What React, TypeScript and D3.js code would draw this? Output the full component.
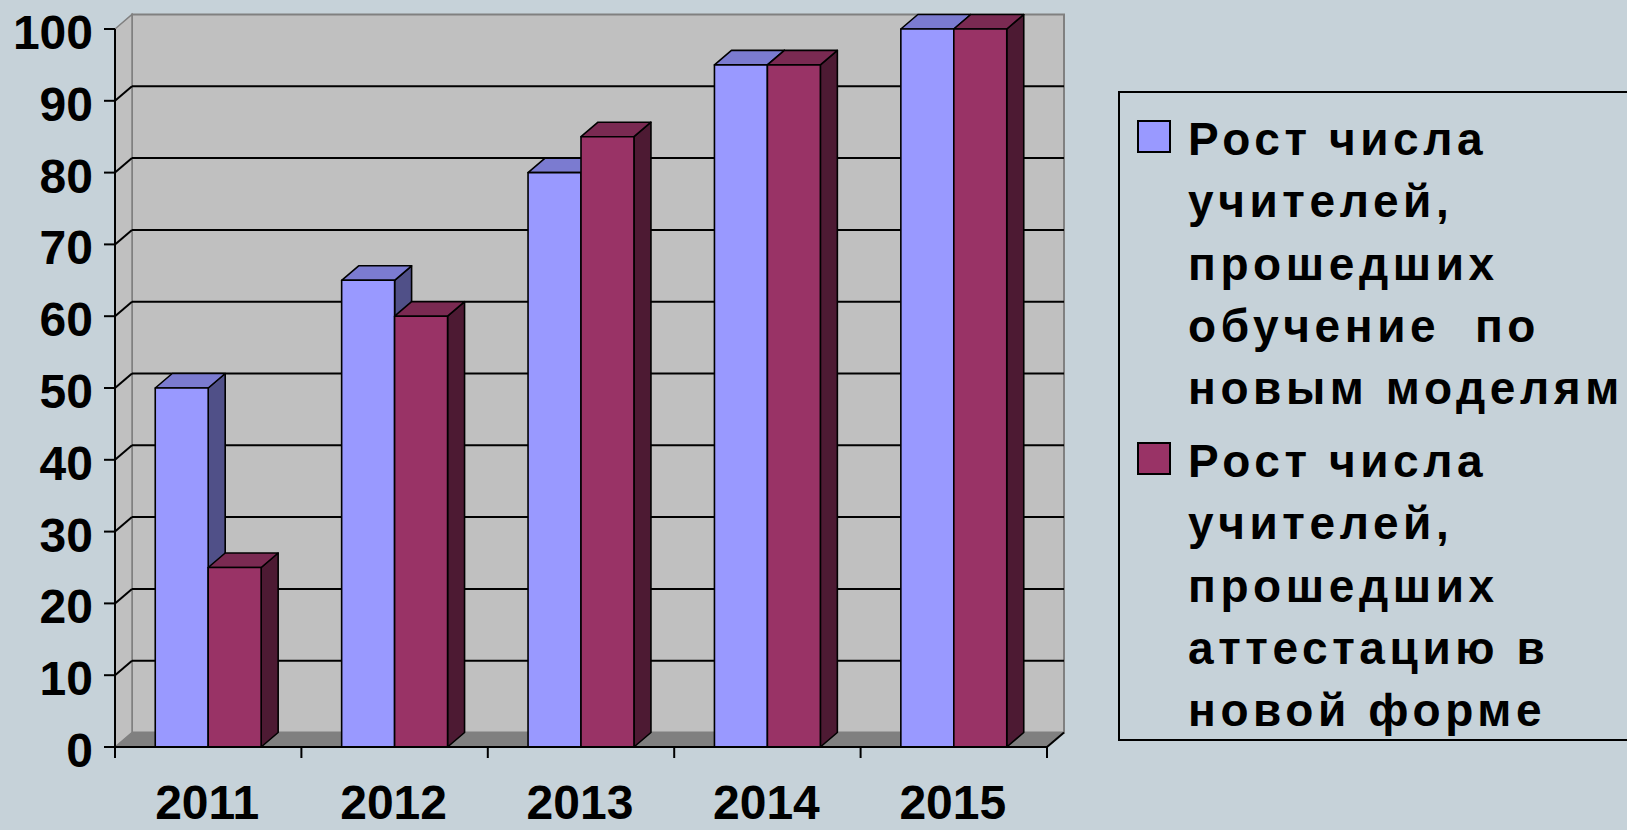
import * as d3 from 'd3'

const years = ['2011', '2012', '2013', '2014', '2015']
const trained = [50, 65, 80, 95, 100]
const certified = [25, 60, 85, 95, 100]
const yTicks = [0, 10, 20, 30, 40, 50, 60, 70, 80, 90, 100]
const seriesKeys = ['trained', 'certified']
const legendLines = [
  ['Рост числа', 'учителей,', 'прошедших', 'обучение  по', 'новым моделям'],
  ['Рост числа', 'учителей,', 'прошедших', 'аттестацию в', 'новой форме'],
]

const W = 1627
const H = 830
const BG = '#c6d2d9'
const font = '"Liberation Sans", Arial, sans-serif'

const palette = [
  { front: '#9999ff', top: '#7b7bd0', side: '#505088' },
  { front: '#993366', top: '#7a2a52', side: '#4d1a33' },
]

// 3d depth offset
const dx = 17
const dy = -14.5

const pts = (p: [number, number][]) => p.map(d => d.join(',')).join(' ')

export default function App() {
  const x0 = d3.scaleBand<string>().domain(years).range([115, 1047])
  const x1 = d3
    .scaleBand<string>()
    .domain(seriesKeys)
    .range([0, x0.bandwidth()])
    .paddingInner(0)
    .paddingOuter(0.76)
  const y = d3.scaleLinear().domain([0, 100]).range([747, 29])

  const left = x0.range()[0]
  const right = x0.range()[1]
  const y0 = y(0)
  const yTop = y(100)

  const values = [trained, certified]

  const bar = (cx: number, v: number, c: (typeof palette)[0], key: string) => {
    const w = x1.bandwidth()
    const t = y(v)
    return (
      <g key={key} stroke="#000" strokeWidth={1.6} strokeLinejoin="round">
        <polygon
          points={pts([[cx + w, t], [cx + w + dx, t + dy], [cx + w + dx, y0 + dy], [cx + w, y0]])}
          fill={c.side}
        />
        <polygon
          points={pts([[cx, t], [cx + dx, t + dy], [cx + w + dx, t + dy], [cx + w, t]])}
          fill={c.top}
        />
        <rect x={cx} y={t} width={w} height={y0 - t} fill={c.front} />
      </g>
    )
  }

  return (
    <div style={{ position: 'fixed', left: 0, top: 0, width: W, height: H, background: BG }}>
      <svg width={W} height={H} style={{ display: 'block' }}>
        <rect width={W} height={H} fill={BG} />

        {/* walls */}
        <polygon
          points={pts([[left + dx, yTop + dy], [right + dx, yTop + dy], [right + dx, y0 + dy], [left + dx, y0 + dy]])}
          fill="#c0c0c0"
          stroke="#808080"
          strokeWidth={2}
        />
        <polygon
          points={pts([[left, yTop], [left + dx, yTop + dy], [left + dx, y0 + dy], [left, y0]])}
          fill="#c0c0c0"
          stroke="#808080"
          strokeWidth={1.5}
        />
        <polygon
          points={pts([[left, y0], [left + dx, y0 + dy], [right + dx, y0 + dy], [right, y0]])}
          fill="#808080"
        />

        {/* grid */}
        {yTicks.slice(1, -1).map(t => (
          <g key={t} stroke="#000" strokeWidth={2}>
            <line x1={left + dx} x2={right + dx} y1={y(t) + dy} y2={y(t) + dy} />
            <line x1={left} x2={left + dx} y1={y(t)} y2={y(t) + dy} />
          </g>
        ))}

        {/* bars */}
        {years.map((yr, i) => (
          <g key={yr}>
            {seriesKeys.map((k, s) =>
              bar((x0(yr) ?? 0) + (x1(k) ?? 0), values[s][i], palette[s], `${yr}-${k}`)
            )}
          </g>
        ))}

        {/* axes */}
        <line x1={left} x2={left} y1={yTop} y2={y0} stroke="#000" strokeWidth={2} />
        <line x1={left} x2={right} y1={y0} y2={y0} stroke="#000" strokeWidth={2} />
        <line x1={right} x2={right + dx} y1={y0} y2={y0 + dy} stroke="#000" strokeWidth={2} />
        {yTicks.map(t => (
          <g key={t}>
            <line x1={left - 11} x2={left} y1={y(t)} y2={y(t)} stroke="#000" strokeWidth={2} />
            <text
              x={93}
              y={y(t) + 20}
              textAnchor="end"
              fontFamily={font}
              fontWeight="bold"
              fontSize={48}
              fill="#000"
            >
              {t}
            </text>
          </g>
        ))}
        {[...years.map(yr => x0(yr) ?? 0), right].map((xv, i) => (
          <line key={i} x1={xv} x2={xv} y1={y0} y2={y0 + 11} stroke="#000" strokeWidth={2} />
        ))}
        {years.map(yr => (
          <text
            key={yr}
            x={(x0(yr) ?? 0) + x0.bandwidth() / 2 - 1}
            y={819}
            textAnchor="middle"
            fontFamily={font}
            fontWeight="bold"
            fontSize={48}
            fill="#000"
          >
            {yr}
          </text>
        ))}

        {/* legend */}
        <rect x={1119} y={92} width={560} height={648} fill="none" stroke="#000" strokeWidth={2} />
        {legendLines.map((lines, s) => {
          const base = 155 + s * 322
          return (
            <g key={s}>
              <rect
                x={1138}
                y={base - 34}
                width={32}
                height={31}
                fill={palette[s].front}
                stroke="#000"
                strokeWidth={2}
              />
              {lines.map((ln, j) => (
                <text
                  key={j}
                  x={1188}
                  y={base + j * 62.3}
                  fontFamily={font}
                  fontWeight="bold"
                  fontSize={46}
                  letterSpacing={4.6}
                  fill="#000"
                  style={{ whiteSpace: 'pre' }}
                >
                  {ln}
                </text>
              ))}
            </g>
          )
        })}
      </svg>
    </div>
  )
}
